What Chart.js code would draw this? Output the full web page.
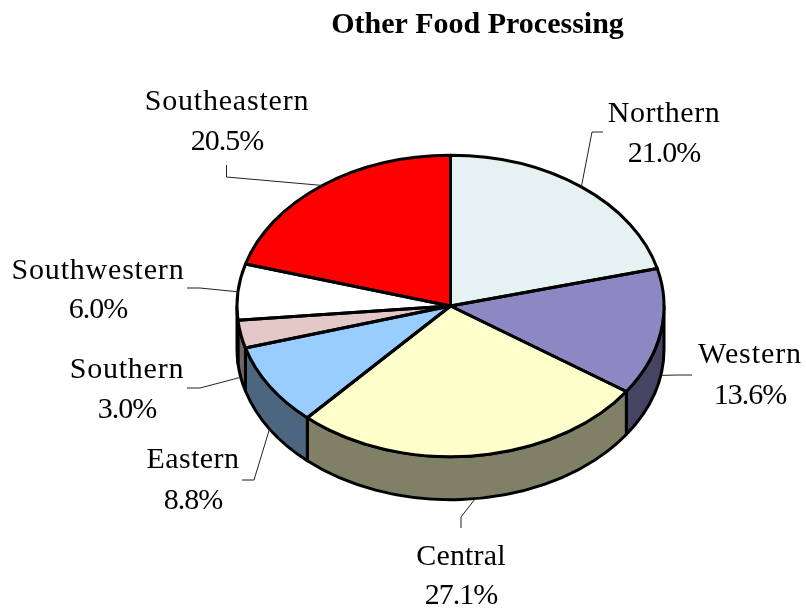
<!DOCTYPE html>
<html>
<head>
<meta charset="utf-8">
<title>Other Food Processing</title>
<script src="https://cdn.jsdelivr.net/npm/chart.js@4"></script>
<style>
    html, body { margin: 0; padding: 0; background: #fff; }
    canvas { display: block; }
</style>
</head>
<body>
<canvas id="pieChart" width="806" height="611"></canvas>
<script>
const chartTitle = "Other Food Processing";
const regions = ["Northern", "Western", "Central", "Eastern", "Southern", "Southwestern", "Southeastern"];
const shares = [21.0, 13.6, 27.1, 8.8, 3.0, 6.0, 20.5];

const topColors = ["#E6F2F2", "#8B88C4", "#FFFFCC", "#99CCFF", "#E4C8C8", "#FFFFFF", "#FF0000"];
const sideColors = ["#737979", "#464462", "#808066", "#4D6680", "#726464", "#808080", "#800000"];

// label placement: centre x, baseline of name, baseline of percent, extra letter spacing
const labelX = [664, 750, 461, 193, 127, 98, 227];
const nameY = [122, 363, 565, 468, 378, 279, 110];
const percentY = [162, 404, 604, 509, 418, 318, 150];
const nameSpacing = [0.5, 0.9, 0.15, 0.4, 0.75, 0.8, 0.8];

// leader lines: [text end, elbow], the third point comes from the slice itself
const leaders = [
    [[603, 132], [592, 132]],
    [[692, 375], [678, 375]],
    [[461, 528], [461, 517]],
    [[242, 480], [254, 480]],
    [[187, 388], [200, 388]],
    [[187, 288], [200, 288]],
    [[226.5, 165], [226.5, 177]]
];

const centerY = 306;
const squash = 0.706;
const depth = 43;

const pie3d = {
    id: "pie3d",
    beforeDatasetsDraw(chart) {
        const ctx = chart.ctx;
        const arcs = chart.getDatasetMeta(0).data;

        ctx.save();
        ctx.lineWidth = 3;
        ctx.strokeStyle = "#000";
        ctx.lineJoin = "round";
        arcs.forEach((arc, i) => {
            const from = Math.max(arc.startAngle, 0);
            const to = Math.min(arc.endAngle, Math.PI);
            if (from >= to) return;
            const rx = arc.outerRadius;
            const ry = rx * squash;
            ctx.beginPath();
            ctx.ellipse(arc.x, centerY, rx, ry, 0, from, to);
            ctx.ellipse(arc.x, centerY + depth, rx, ry, 0, to, from, true);
            ctx.closePath();
            ctx.fillStyle = sideColors[i];
            ctx.fill();
            ctx.stroke();
        });
        ctx.restore();

        // the library draws the slices, squashed into an ellipse
        const first = arcs[0];
        ctx.save();
        ctx.translate(0, centerY);
        ctx.scale(1, squash);
        ctx.translate(0, -first.y);
    },
    afterDatasetsDraw(chart) {
        const ctx = chart.ctx;
        const arcs = chart.getDatasetMeta(0).data;
        ctx.restore();

        ctx.save();
        ctx.lineWidth = 3;
        ctx.strokeStyle = "#000";
        ctx.lineJoin = "round";
        arcs.forEach(arc => {
            const rx = arc.outerRadius;
            ctx.beginPath();
            ctx.moveTo(arc.x, centerY);
            ctx.ellipse(arc.x, centerY, rx, rx * squash, 0, arc.startAngle, arc.endAngle);
            ctx.closePath();
            ctx.stroke();
        });

        ctx.lineWidth = 1;
        ctx.strokeStyle = "#222";
        arcs.forEach((arc, i) => {
            const mid = (arc.startAngle + arc.endAngle) / 2;
            const rx = arc.outerRadius;
            const endX = arc.x + rx * Math.cos(mid);
            let endY = centerY + rx * squash * Math.sin(mid);
            if (Math.sin(mid) > 0) endY += depth;
            ctx.beginPath();
            ctx.moveTo(leaders[i][0][0], leaders[i][0][1]);
            ctx.lineTo(leaders[i][1][0], leaders[i][1][1]);
            ctx.lineTo(endX, endY);
            ctx.stroke();
        });

        ctx.fillStyle = "#000";
        ctx.textAlign = "center";
        ctx.textBaseline = "alphabetic";
        ctx.font = "30px 'Liberation Serif'";
        regions.forEach((name, i) => {
            ctx.letterSpacing = nameSpacing[i] + "px";
            ctx.fillText(name, labelX[i], nameY[i]);
            ctx.letterSpacing = "-1px";
            ctx.fillText(shares[i].toFixed(1) + "%", labelX[i], percentY[i]);
        });

        ctx.font = "bold 30px 'Liberation Serif'";
        ctx.letterSpacing = "0px";
        ctx.fillText(chartTitle, 477.5, 33);
        ctx.restore();
    }
};

new Chart(document.getElementById("pieChart"), {
    type: "pie",
    data: {
        labels: regions,
        datasets: [{
            data: shares,
            backgroundColor: topColors,
            borderWidth: 0,
            clip: false
        }]
    },
    options: {
        responsive: false,
        animation: false,
        layout: { padding: { left: 237, right: 142, top: 0, bottom: 0 } },
        plugins: {
            legend: { display: false },
            tooltip: { enabled: false }
        }
    },
    plugins: [pie3d]
});
</script>
</body>
</html>
